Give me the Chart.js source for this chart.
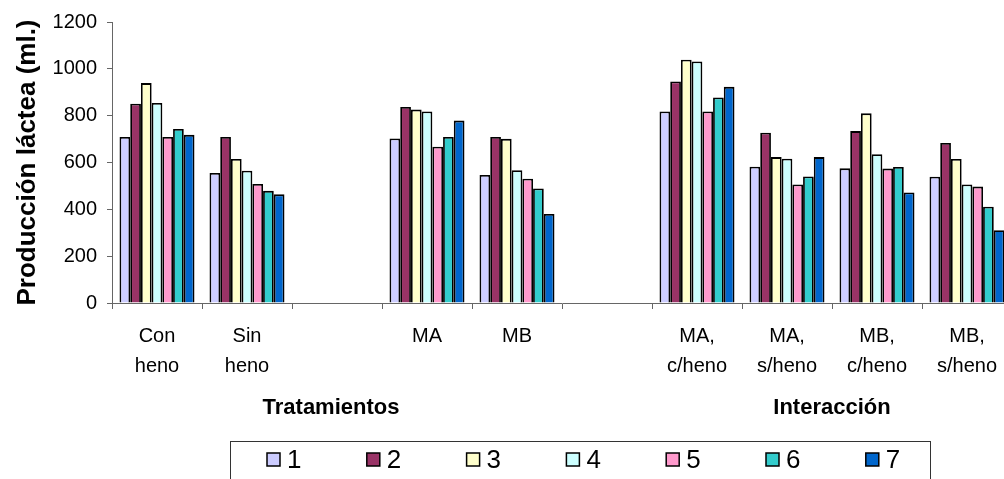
<!DOCTYPE html>
<html lang="es">
<head>
    <meta charset="UTF-8">
    <title>Producción láctea</title>
    <script src="https://cdn.jsdelivr.net/npm/chart.js"></script>
    <style>
        html, body {
            margin: 0;
            padding: 0;
            background: #fff;
            overflow: hidden;
        }
        #wrap {
            width: 1016px;
            height: 479px;
            position: relative;
        }
    </style>
</head>
<body>
    <div id="wrap"><canvas id="barChart"></canvas></div>

    <script>
        // categories (empty slots separate the groups)
        const categories = [
            ['Con', 'heno'], ['Sin', 'heno'], '', 'MA', 'MB', '',
            ['MA,', 'c/heno'], ['MA,', 's/heno'], ['MB,', 'c/heno'], ['MB,', 's/heno']
        ];
        const seriesNames = ['1', '2', '3', '4', '5', '6', '7'];
        const seriesColors = ['#CCCCFF', '#993366', '#FFFFCC', '#CCFFFF', '#FF99CC', '#33CCCC', '#0066CC'];

        // values per series, one per category
        const s1 = [709, 555, null, 703, 547, null, 818, 582, 575, 539];
        const s2 = [851, 709, null, 837, 709, null, 946, 727, 734, 683];
        const s3 = [939, 615, null, 826, 701, null, 1039, 623, 810, 615];
        const s4 = [854, 565, null, 818, 567, null, 1031, 616, 635, 506];
        const s5 = [709, 508, null, 667, 531, null, 818, 506, 574, 497];
        const s6 = [743, 479, null, 709, 489, null, 878, 540, 581, 411];
        const s7 = [718, 464, null, 779, 380, null, 923, 623, 472, 311];
        const seriesValues = [s1, s2, s3, s4, s5, s6, s7];

        const yTicks = [0, 200, 400, 600, 800, 1000, 1200];
        const groupTitles = ['Tratamientos', 'Interacción'];
        const groupRanges = [[0, 4], [6, 9]];

        const FONT = "'Liberation Sans', Arial, sans-serif";

        // two group titles under the category labels
        const groupTitlePlugin = {
            id: 'groupTitles',
            afterDraw(chart) {
                const ctx = chart.ctx;
                const x = chart.scales.x;
                ctx.save();
                ctx.font = 'bold 22px ' + FONT;
                ctx.fillStyle = '#000';
                ctx.textAlign = 'center';
                ctx.textBaseline = 'middle';
                groupTitles.forEach((t, i) => {
                    const [a, b] = groupRanges[i];
                    const cx = (x.getPixelForValue(a) + x.getPixelForValue(b)) / 2;
                    ctx.fillText(t, cx - (i === 0 ? 6 : 0), 408);
                });
                ctx.restore();
            }
        };

        // boxed legend at the bottom
        const boxLegendPlugin = {
            id: 'boxLegend',
            afterDraw(chart) {
                const ctx = chart.ctx;
                ctx.save();
                ctx.strokeStyle = '#333';
                ctx.lineWidth = 1;
                ctx.strokeRect(230.5, 441.5, 700, 60);
                ctx.font = '26px ' + FONT;
                ctx.textBaseline = 'middle';
                ctx.textAlign = 'left';
                chart.data.datasets.forEach((ds, i) => {
                    const bx = 267 + i * 99.8;
                    ctx.fillStyle = ds.backgroundColor;
                    ctx.fillRect(bx, 453, 13, 13);
                    ctx.strokeStyle = '#000';
                    ctx.lineWidth = 1.5;
                    ctx.strokeRect(bx, 453, 13, 13);
                    ctx.fillStyle = '#000';
                    ctx.fillText(ds.label, bx + 20, 461);
                });
                ctx.restore();
            }
        };

        const datasets = seriesNames.map((name, i) => ({
            label: name,
            data: seriesValues[i],
            backgroundColor: seriesColors[i],
            borderColor: '#000',
            borderWidth: 1.8,
            categoryPercentage: 0.833,
            barPercentage: 1
        }));

        new Chart(document.getElementById('barChart').getContext('2d'), {
            type: 'bar',
            data: { labels: categories, datasets },
            options: {
                responsive: true,
                maintainAspectRatio: false,
                animation: false,
                layout: { padding: { top: 20, left: 0, right: 4, bottom: 0 } },
                plugins: {
                    legend: { display: false },
                    tooltip: { enabled: false }
                },
                scales: {
                    x: {
                        grid: { drawOnChartArea: false, tickLength: 6, color: '#666' },
                        border: { color: '#666', width: 1 },
                        ticks: {
                            color: '#000',
                            padding: 12,
                            maxRotation: 0,
                            autoSkip: false,
                            font: { family: FONT, size: 20, lineHeight: 1.5 }
                        },
                        afterFit(scale) { scale.height = 176; }
                    },
                    y: {
                        min: 0,
                        max: 1200,
                        afterBuildTicks(scale) { scale.ticks = yTicks.map(v => ({ value: v })); },
                        grid: { drawOnChartArea: false, tickLength: 5, color: '#666' },
                        border: { color: '#666', width: 1 },
                        ticks: {
                            color: '#000',
                            padding: 10,
                            font: { family: FONT, size: 20 },
                            callback: v => String(v)
                        },
                        title: {
                            display: true,
                            text: 'Producción láctea (ml.)',
                            color: '#000',
                            padding: { top: 12, bottom: 0 },
                            font: { family: FONT, size: 26, weight: 'bold' }
                        },
                        afterFit(scale) { scale.width = 112; }
                    }
                }
            },
            plugins: [groupTitlePlugin, boxLegendPlugin]
        });
    </script>
</body>
</html>
